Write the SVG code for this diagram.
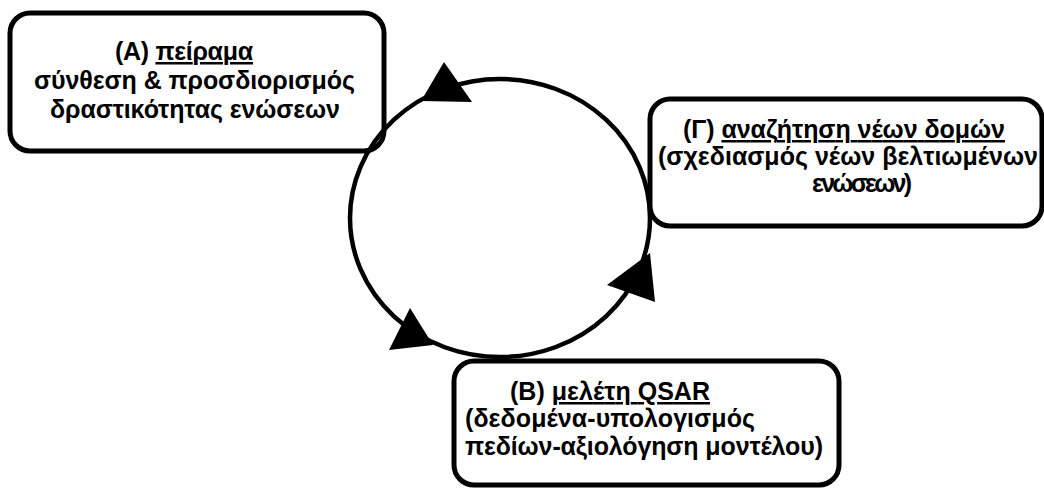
<svg xmlns="http://www.w3.org/2000/svg" width="1044" height="488" viewBox="0 0 1044 488">
<style>
.box{fill:#fff;stroke:#000;stroke-width:5}
.t{font-family:"Liberation Sans",Arial,sans-serif;font-weight:bold;font-size:25px;fill:#000}
.u{text-decoration:underline}
.ring{fill:none;stroke:#000;stroke-width:4.5}
.head{fill:#000}
</style>
<rect width="1044" height="488" fill="#fff"/>
<g id="nodeA">
<rect class="box" x="10" y="13" width="374" height="138" rx="20"/>
<text class="t" x="115" y="60" textLength="138">(A) <tspan class="u">πείραμα</tspan></text>
<text class="t" x="34" y="89" textLength="321">σύνθεση &amp; προσδιορισμός</text>
<text class="t" x="50" y="118" textLength="290">δραστικότητας ενώσεων</text>
</g>
<g id="nodeG">
<rect class="box" x="650" y="99" width="392" height="127" rx="20"/>
<text class="t" x="683" y="138" textLength="322">(Γ) <tspan class="u">αναζήτηση νέων δομών</tspan></text>
<text class="t" x="658" y="165" textLength="380">(σχεδιασμός νέων βελτιωμένων</text>
<text class="t" x="812" y="192" textLength="100">ενώσεων)</text>
</g>
<g id="nodeB">
<rect class="box" x="454" y="361" width="385" height="124" rx="20"/>
<text class="t" x="510" y="400" textLength="200">(B) <tspan class="u">μελέτη QSAR</tspan></text>
<text class="t" x="465" y="427" textLength="290">(δεδομένα-υπολογισμός</text>
<text class="t" x="465" y="455" textLength="358">πεδίων-αξιολόγηση μοντέλου)</text>
</g>
<g id="connectors">
<ellipse class="ring" cx="500" cy="218" rx="150" ry="139"/>
<polygon class="head" points="444,62 421,101 472,102"/>
<polygon class="head" points="650,253 607,285 655,302"/>
<polygon class="head" points="410,308 389,350 433,345"/>
</g>
</svg>
